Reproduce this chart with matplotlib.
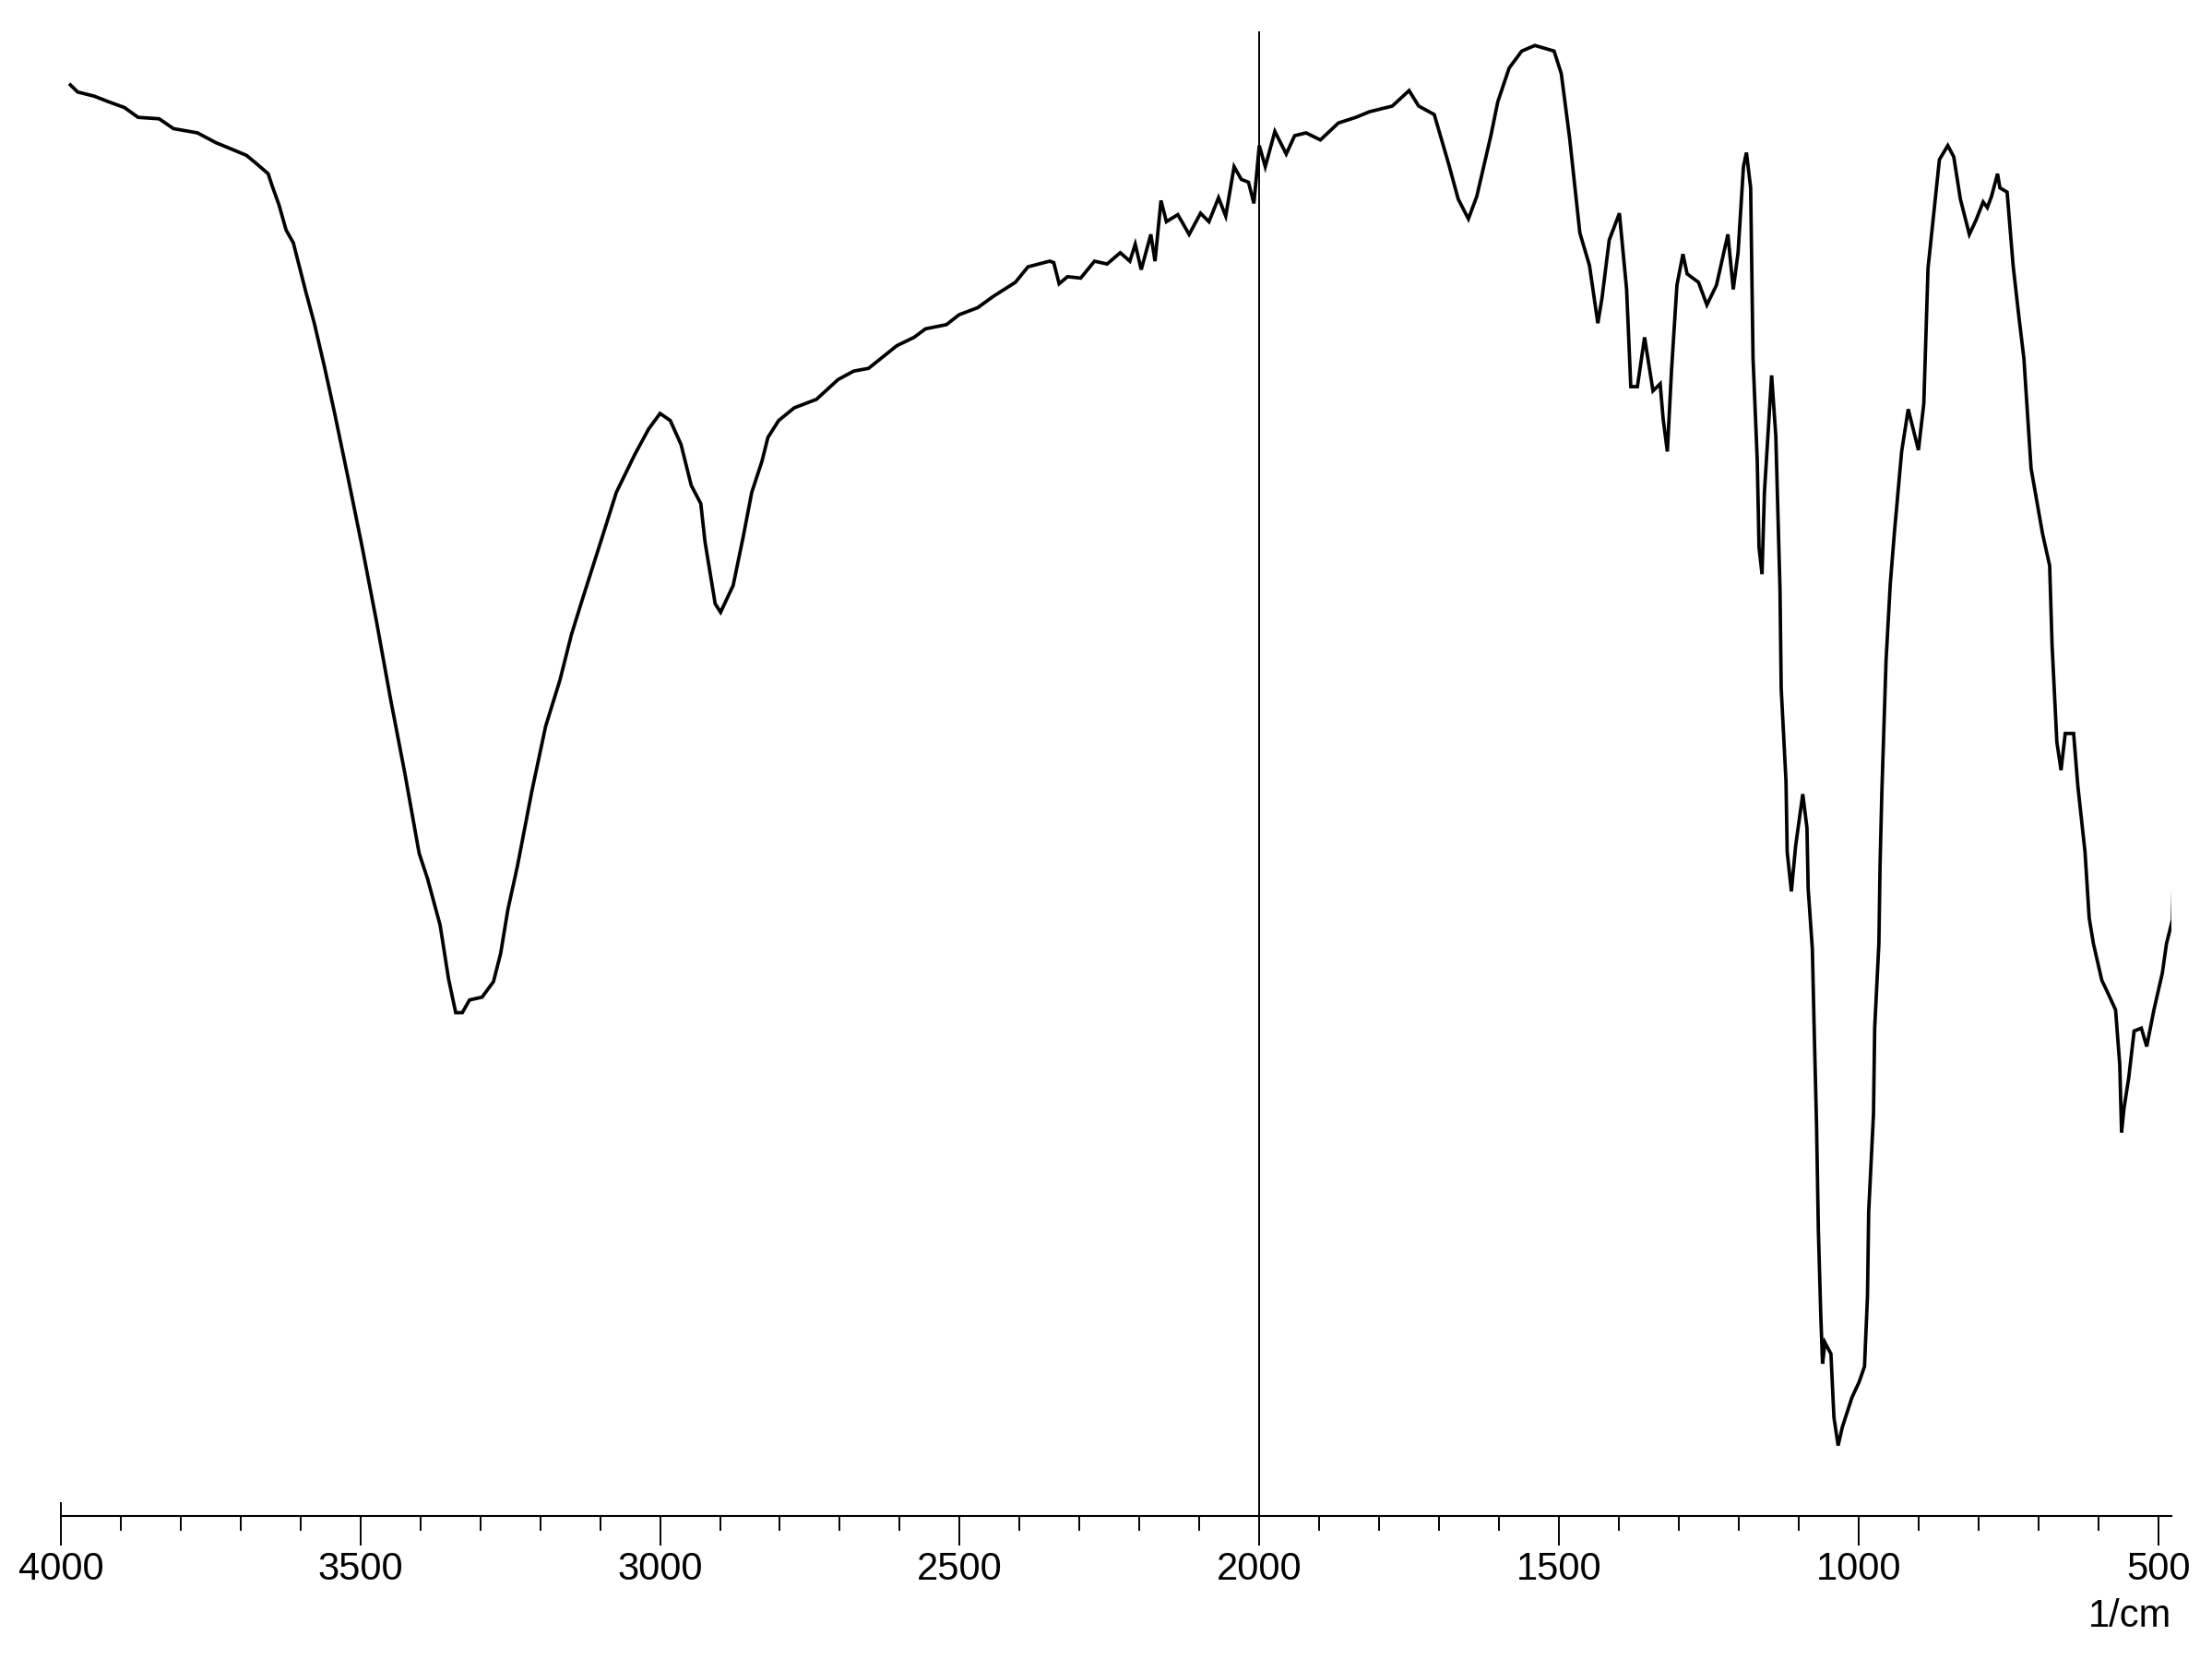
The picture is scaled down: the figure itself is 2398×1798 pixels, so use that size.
import matplotlib
matplotlib.use("Agg")
import matplotlib.pyplot as plt
from matplotlib.ticker import MultipleLocator

# FTIR spectrum (wavenumber in 1/cm, transmittance in arbitrary %T units)
wavenumber = [
    3984, 3972, 3944, 3920, 3894, 3871, 3836, 3812, 3772, 3741, 3718, 3690, 3673, 3654,
    3647, 3636, 3624, 3612, 3591, 3577, 3560, 3544, 3520, 3497, 3473, 3450, 3426, 3402,
    3388, 3367, 3353, 3341, 3330, 3318, 3297, 3278, 3266, 3254, 3238, 3214, 3191, 3167,
    3148, 3129, 3096, 3073, 3042, 3019, 3000, 2983, 2965, 2948, 2932, 2925, 2908, 2899,
    2878, 2861, 2847, 2830, 2820, 2802, 2776, 2739, 2703, 2677, 2652, 2605, 2576, 2557,
    2522, 2501, 2470, 2444, 2407, 2386, 2350, 2343, 2334, 2320, 2298, 2275, 2254, 2232,
    2216, 2207, 2197, 2181, 2174, 2164, 2155, 2136, 2117, 2098, 2084, 2068, 2056, 2042,
    2030, 2018, 2009, 2000, 1990, 1974, 1955, 1941, 1922, 1898, 1868, 1839, 1816, 1778,
    1750, 1734, 1708, 1684, 1668, 1651, 1637, 1613, 1602, 1583, 1562, 1540, 1508, 1496,
    1482, 1465, 1449, 1435, 1428, 1416, 1399, 1387, 1380, 1369, 1357, 1343, 1331, 1326,
    1319, 1312, 1303, 1293, 1286, 1267, 1253, 1237, 1218, 1209, 1201, 1192, 1187, 1180,
    1176, 1169, 1166, 1161, 1157, 1145, 1138, 1131, 1129, 1121, 1119, 1112, 1105, 1093,
    1086, 1084, 1077, 1074, 1070, 1067, 1063, 1060, 1056, 1046, 1041, 1034, 1027, 1011,
    999, 990, 985, 983, 975, 973, 966, 964, 961, 957, 954, 947, 940, 928,
    917, 900, 891, 884, 872, 865, 851, 841, 830, 815, 804, 792, 785, 778,
    768, 764, 752, 742, 733, 724, 712, 693, 681, 677, 669, 662, 655, 641,
    634, 622, 615, 608, 594, 585, 571, 564, 561, 557, 549, 540, 528, 519,
    507, 493, 486, 476, 475,
]
transmittance = [
    101.5, 101.0, 100.7, 100.3, 99.9, 99.2, 99.1, 98.4, 98.1, 97.4, 97.0, 96.5, 95.9, 95.2,
    94.3, 93.0, 91.2, 90.3, 86.8, 84.6, 81.5, 78.4, 73.5, 68.7, 63.4, 58.0, 52.7, 47.0,
    45.2, 41.9, 38.1, 35.7, 35.7, 36.6, 36.8, 37.9, 39.9, 43.0, 46.1, 51.4, 56.0, 59.3,
    62.5, 65.1, 69.5, 72.6, 75.3, 77.1, 78.2, 77.7, 76.0, 73.1, 71.8, 69.1, 64.7, 64.1,
    66.0, 69.5, 72.6, 74.8, 76.5, 77.7, 78.6, 79.2, 80.6, 81.2, 81.4, 83.0, 83.6, 84.2,
    84.5, 85.2, 85.7, 86.5, 87.5, 88.6, 89.0, 88.9, 87.4, 87.9, 87.8, 89.0, 88.8, 89.6,
    89.0, 90.2, 88.4, 90.9, 89.0, 93.3, 91.8, 92.3, 90.9, 92.4, 91.8, 93.5, 92.2, 95.7,
    94.8, 94.6, 93.1, 97.2, 95.7, 98.2, 96.6, 97.9, 98.1, 97.6, 98.8, 99.2, 99.6, 100.0,
    101.1, 100.0, 99.4, 95.9, 93.4, 92.0, 93.6, 98.0, 100.3, 102.7, 103.9, 104.3, 103.9, 102.3,
    97.7, 91.0, 88.7, 84.6, 86.4, 90.5, 92.4, 87.0, 80.1, 80.1, 83.6, 79.8, 80.3, 77.8,
    75.5, 81.3, 87.3, 89.5, 88.1, 87.5, 85.9, 87.3, 90.9, 87.0, 89.6, 95.7, 96.7, 94.2,
    82.1, 74.9, 68.7, 66.8, 72.6, 80.9, 76.6, 65.7, 58.7, 52.1, 47.1, 44.3, 47.5, 51.2,
    48.8, 44.5, 40.2, 34.6, 27.7, 20.3, 14.3, 10.8, 12.3, 11.5, 7.0, 5.0, 6.3, 8.4,
    9.5, 10.6, 15.6, 21.6, 28.5, 34.6, 40.6, 46.2, 51.4, 56.6, 60.7, 66.1, 69.8, 75.5,
    78.5, 75.6, 78.9, 88.5, 93.4, 96.2, 97.2, 96.4, 93.4, 90.9, 91.9, 93.2, 92.8, 93.6,
    95.2, 94.2, 93.9, 88.7, 85.3, 82.1, 74.3, 69.7, 67.4, 61.8, 54.9, 52.9, 55.5, 55.5,
    51.8, 47.1, 42.4, 40.6, 38.0, 37.2, 35.9, 32.0, 27.2, 28.9, 31.1, 34.4, 34.6, 33.3,
    35.9, 38.5, 40.6, 42.3, 44.3,
]
marker_wn = 2000
x_label = "1/cm"

FONT = ["Liberation Sans", "Arial", "DejaVu Sans"]

fig = plt.figure(figsize=(23.98, 17.98), dpi=100)
ax = fig.add_axes([0.0275, 0.0862, 0.9541, 0.8949])

ax.plot(wavenumber, transmittance, color="black", linewidth=2.7, solid_joinstyle="miter")
ax.axvline(marker_wn, color="black", linewidth=1.4)

ax.set_xlim(4000, 478)
ax.set_ylim(0, 105.3)

for side in ("left", "right", "top"):
    ax.spines[side].set_visible(False)
ax.spines["bottom"].set_linewidth(1.5)
ax.set_yticks([])

ax.xaxis.set_major_locator(MultipleLocator(500))
ax.xaxis.set_minor_locator(MultipleLocator(100))
ax.tick_params(axis="x", which="major", length=23, width=1.4, pad=4,
               labelsize=30, colors="black")
ax.tick_params(axis="x", which="minor", length=11.5, width=1.4)
for lab in ax.get_xticklabels():
    lab.set_family(FONT)

# small cap above the axis at the 4000 end
ax.plot([4000, 4000], [0, 0.9], color="black", linewidth=1.4, clip_on=False)

fig.text(0.9817, 0.0195, x_label, ha="right", va="baseline", fontsize=30, family=FONT)

fig.savefig("out.png", dpi=100, facecolor="white")
